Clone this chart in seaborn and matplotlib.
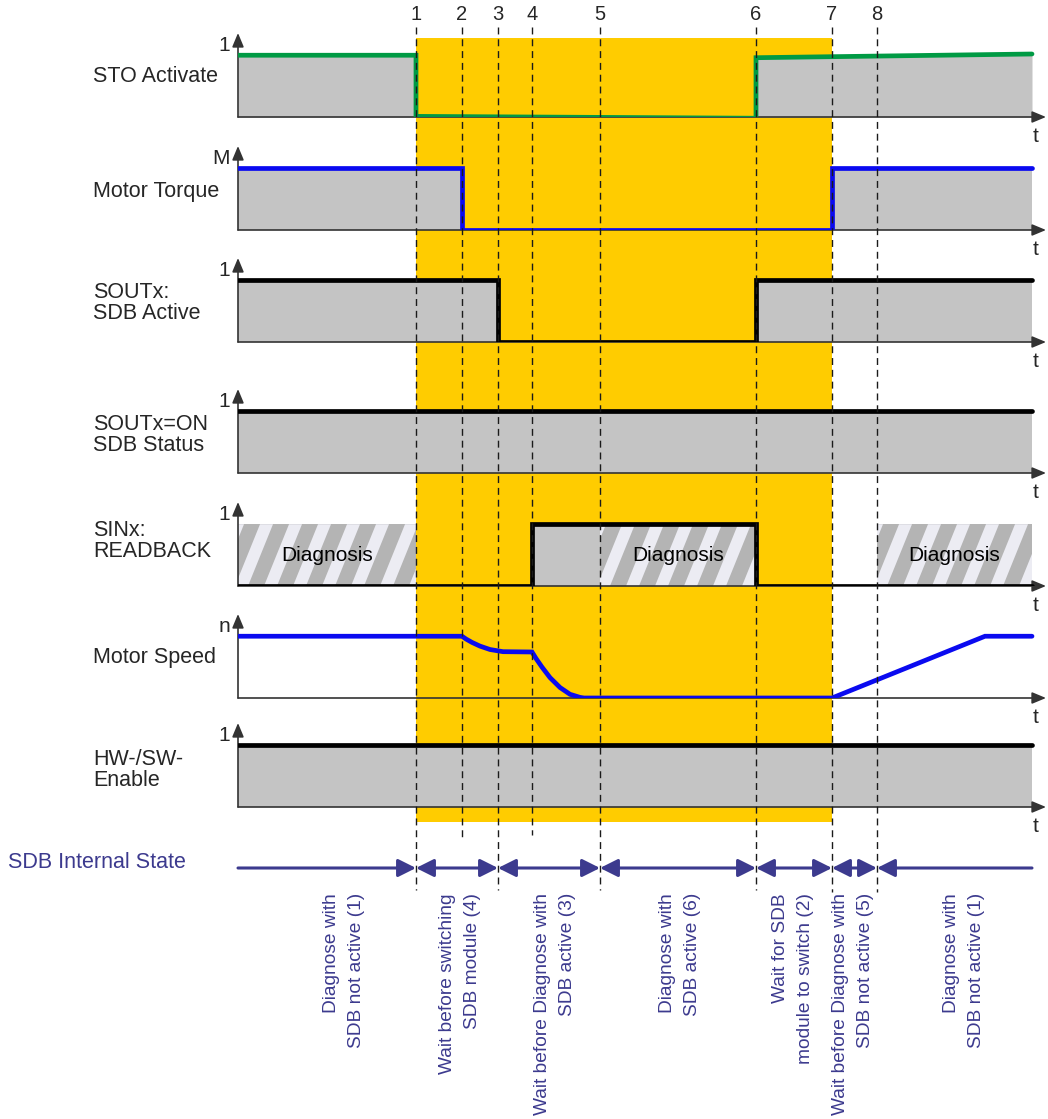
import matplotlib
matplotlib.use("Agg")
import matplotlib.pyplot as plt
from matplotlib.patches import Rectangle, Polygon
import numpy as np
import seaborn as sns

sns.set_theme(style="white")
plt.rcParams["font.family"] = ["Liberation Sans", "DejaVu Sans"]

# --- data (time in arbitrary units, signal levels normalised 0..1) ---
event_labels = ["1", "2", "3", "4", "5", "6", "7", "8"]
event_times = [17.8, 22.4, 26.0, 29.4, 36.2, 51.8, 59.4, 63.9]
t_end = 79.4

sto_t = [0, 17.8, 17.8, 51.8, 51.8, 79.4]
sto_v = [1.0, 1.0, 0.01, -0.02, 0.96, 1.02]

torque_t = [0, 22.4, 22.4, 59.4, 59.4, 79.4]
torque_v = [1, 1, 0, 0, 1, 1]

sdb_active_t = [0, 26.0, 26.0, 51.8, 51.8, 79.4]
sdb_active_v = [1, 1, 0, 0, 1, 1]

sdb_status_t = [0, 79.4]
sdb_status_v = [1, 1]

readback_t = [0, 29.4, 29.4, 51.8, 51.8, 79.4]
readback_v = [0, 0, 1, 1, 0, 0]

speed_t = [0, 22.4, 22.8, 23.4, 24.2, 25.2, 26.5, 29.4, 29.8, 30.4,
           31.2, 32.2, 33.2, 34.2, 34.6, 59.4, 74.7, 79.4]
speed_v = [1, 1, 0.955, 0.9, 0.84, 0.785, 0.75, 0.745, 0.64, 0.5,
           0.33, 0.17, 0.06, 0.01, 0, 0, 1, 1]

enable_t = [0, 79.4]
enable_v = [1, 1]

diagnosis_spans = [(0, 17.8), (36.2, 51.8), (63.9, 79.4)]

state_bounds = [0, 17.8, 26.0, 36.2, 51.8, 59.4, 63.9, 79.4]
state_labels = [
    "Diagnose with\nSDB not active (1)",
    "Wait before switching\nSDB module (4)",
    "Wait before Diagnose with\nSDB active (3)",
    "Diagnose with\nSDB active (6)",
    "Wait for SDB\nmodule to switch (2)",
    "Wait before Diagnose with\nSDB not active (5)",
    "Diagnose with\nSDB not active (1)",
]

lane_names = ["STO Activate", "Motor Torque", "SOUTx:\nSDB Active",
              "SOUTx=ON\nSDB Status", "SINx:\nREADBACK", "Motor Speed",
              "HW-/SW-\nEnable"]
lane_levels = ["1", "M", "1", "1", "1", "n", "1"]

# --- styling / layout ---
W, H = 1048, 1119
GREEN = "#009a44"
BLUE = "#0a0af0"
BLACK = "#000000"
GRAY = "#c4c4c4"
YELLOW = "#ffcc00"
STATE = "#3c3a8e"

lane_base_px = [117, 230, 342, 473, 586, 698, 807]
lane_label_y = [0.65, 0.63, 0.63, 0.61, 0.73, 0.65, 0.6]
state_label_x = [10.6, 22.2, 31.7, 44.2, 55.5, 61.5, 72.6]
lane_h_px = 84
x0_px, x1_px = 238, 1048
xmax = 81.0
ymax = 1.36

lanes = [
    (sto_t, sto_v, GREEN, True),
    (torque_t, torque_v, BLUE, True),
    (sdb_active_t, sdb_active_v, BLACK, True),
    (sdb_status_t, sdb_status_v, BLACK, True),
    (readback_t, readback_v, BLACK, True),
    (speed_t, speed_v, BLUE, False),
    (enable_t, enable_v, BLACK, True),
]

fig = plt.figure(figsize=(W / 100, H / 100), dpi=100)

# background axes: same x scale as the lanes, y in pixels
xmin_full = -x0_px * xmax / (x1_px - x0_px)
ax_bg = fig.add_axes([0, 0, 1, 1], zorder=0)
ax_bg.set_xlim(xmin_full, xmax)
ax_bg.set_ylim(H, 0)
ax_bg.axis("off")
ax_bg.add_patch(Rectangle((event_times[0], 38), event_times[6] - event_times[0],
                          822 - 38, facecolor=YELLOW, edgecolor="none"))

for i, (t, v, color, fill) in enumerate(lanes):
    base = lane_base_px[i]
    ax = fig.add_axes([x0_px / W, (H - base) / H, (x1_px - x0_px) / W, lane_h_px / H],
                      zorder=1)
    ax.set_facecolor("none")

    if fill:
        ax.fill_between(t, v, 0, color=GRAY, lw=0, zorder=1)

    if i == 4:
        for a, b in diagnosis_spans:
            rect = Rectangle((a, 0), b - a, 1, facecolor="#b4b4b4",
                             edgecolor="none", zorder=2)
            ax.add_patch(rect)
            for s in np.arange(a - 3.2, b, 2.9):
                stripe = Polygon([(s, 0), (s + 1.3, 0), (s + 3.8, 1), (s + 2.5, 1)],
                                 closed=True, facecolor="#ececf3",
                                 edgecolor="none", zorder=2)
                ax.add_patch(stripe)
                stripe.set_clip_path(rect)
            ax.text((a + b) / 2, 0.5, "Diagnosis", ha="center", va="center",
                    fontsize=15, color="black", zorder=3)

    # axes arrows
    ax.annotate("", xy=(0, ymax), xytext=(0, 0),
                arrowprops=dict(arrowstyle="-|>,head_length=0.6,head_width=0.25",
                                color="#333333", lw=1.2, shrinkA=0, shrinkB=0,
                                mutation_scale=14), zorder=2)
    ax.annotate("", xy=(xmax - 0.2, 0), xytext=(0, 0),
                arrowprops=dict(arrowstyle="-|>,head_length=0.6,head_width=0.25",
                                color="#333333", lw=1.2, shrinkA=0, shrinkB=0,
                                mutation_scale=14), zorder=2)

    sns.lineplot(x=t, y=v, ax=ax, color=color, lw=3.4, estimator=None,
                 sort=False, legend=False, zorder=4)
    ax.lines[-1].set_solid_joinstyle("miter")
    ax.set_xlim(0, xmax)
    ax.set_ylim(0, ymax)
    ax.axis("off")

    ax.text(-0.8, 1.16, lane_levels[i], ha="right", va="center", fontsize=15)
    ax.text(79.8, -0.32, "t", ha="center", va="center", fontsize=15)
    ax.text(-14.5, lane_label_y[i], lane_names[i], ha="left", va="center",
            fontsize=15.5, linespacing=1.02)

# overlay: dashed event lines, numbers and internal state arrows
ax_top = fig.add_axes([0, 0, 1, 1], zorder=3)
ax_top.set_facecolor("none")
ax_top.set_xlim(xmin_full, xmax)
ax_top.set_ylim(H, 0)
ax_top.axis("off")

line_bottoms = [890, 840, 890, 835, 890, 890, 892, 892]
for lab, tx, yb in zip(event_labels, event_times, line_bottoms):
    ax_top.plot([tx, tx], [27, yb], color="#1a1a1a", lw=1.0,
                dashes=(5, 3.5))
    ax_top.text(tx, 15, lab, ha="center", va="center", fontsize=14.5)

ax_top.text(-23.0, 862, "SDB Internal State", ha="left", va="center",
            fontsize=15.5, color=STATE)

n_states = len(state_labels)
for k in range(n_states):
    a, b = state_bounds[k], state_bounds[k + 1]
    if k == 0:
        style = "-|>,head_length=0.6,head_width=0.3"
    elif k == n_states - 1:
        style = "<|-,head_length=0.6,head_width=0.3"
    else:
        style = "<|-|>,head_length=0.6,head_width=0.3"
    ax_top.annotate("", xy=(b, 868), xytext=(a, 868),
                    arrowprops=dict(arrowstyle=style, color=STATE, lw=2.2,
                                    shrinkA=0, shrinkB=0, mutation_scale=18))
    ax_top.text(state_label_x[k], 893, state_labels[k], rotation=90, ha="center",
                va="top", multialignment="right", fontsize=13.8, color=STATE,
                linespacing=1.6)

fig.savefig("out.png", dpi=100)
